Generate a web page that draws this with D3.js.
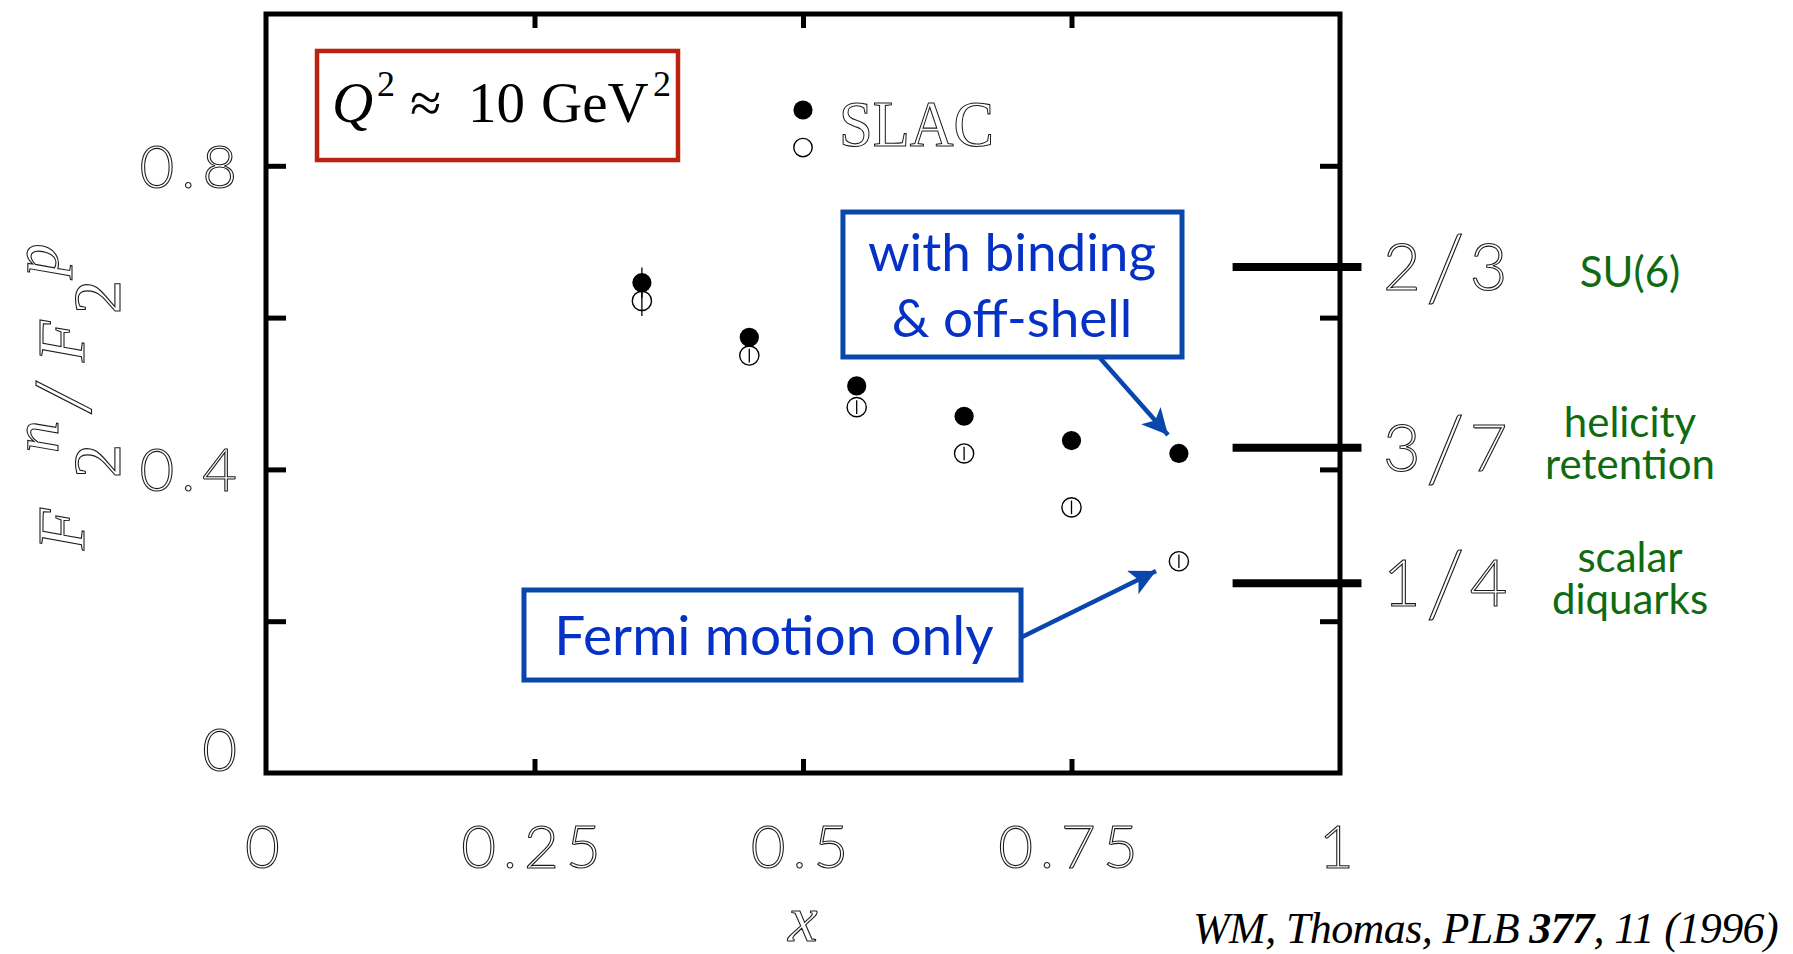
<!DOCTYPE html>
<html><head><meta charset="utf-8">
<script src="https://cdn.jsdelivr.net/npm/d3@7"></script>
<style>
html,body{margin:0;padding:0;background:#fff;}
svg{display:block;}
</style></head><body>
<svg id="chart" width="1793" height="954"></svg>
<script>
// ---- data ----
const xTickValues = [0.25, 0.5, 0.75];
const xLabelValues = [0, 0.25, 0.5, 0.75, 1];
const xTickLabels = ["0", "0.25", "0.5", "0.75", "1"];
const yTickValues = [0.2, 0.4, 0.6, 0.8];
const yLabelValues = [0, 0.4, 0.8];
const yTickLabels = ["0", "0.4", "0.8"];

const xValues = [0.35, 0.45, 0.55, 0.65, 0.75, 0.85];
const bindingValues = [0.646, 0.574, 0.510, 0.470, 0.438, 0.421];
const bindingErrors = [0.020, 0.008, 0.008, 0.008, 0.008, 0.008];
const fermiValues = [0.622, 0.550, 0.482, 0.421, 0.350, 0.279];
const fermiErrors = [0.020, 0.009, 0.009, 0.009, 0.009, 0.009];

const limitValues = [2/3, 3/7, 1/4];
const limitNumerators = ["2", "3", "1"];
const limitDenominators = ["3", "7", "4"];
const limitNames = [["SU(6)"], ["helicity", "retention"], ["scalar", "diquarks"]];

// ---- layout ----
const svg = d3.select("#chart");
const x = d3.scaleLinear().domain([0, 1]).range([266, 1340]);
const y = d3.scaleLinear().domain([0, 1]).range([773, 14]);

const outline = sel => sel.attr("fill", "#fff").attr("stroke", "#1a1a1a").attr("stroke-width", 1.1);
const tickFont = "Lato, 'DejaVu Sans', sans-serif";
const serif = "'Liberation Serif', 'DejaVu Serif', serif";
const blueStroke = "#0a47ad", blueText = "#0631c6", green = "#0f6b12", red = "#bb2210";

// frame
svg.append("rect")
  .attr("x", x(0)).attr("y", y(1))
  .attr("width", x(1) - x(0)).attr("height", y(0) - y(1))
  .attr("fill", "none").attr("stroke", "#000").attr("stroke-width", 5);

// ticks (inward)
function styleAxis(g) {
  g.select(".domain").remove();
  g.selectAll(".tick line").attr("stroke", "#000").attr("stroke-width", 5);
  g.selectAll(".tick text").remove();
}
svg.append("g").attr("transform", `translate(0,${y(0)})`)
  .call(d3.axisBottom(x).tickValues(xTickValues).tickSize(-14).tickFormat("")).call(styleAxis);
svg.append("g").attr("transform", `translate(0,${y(1)})`)
  .call(d3.axisTop(x).tickValues(xTickValues).tickSize(-14).tickFormat("")).call(styleAxis);
svg.append("g").attr("transform", `translate(${x(0)},0)`)
  .call(d3.axisLeft(y).tickValues(yTickValues).tickSize(-20).tickFormat("")).call(styleAxis);
svg.append("g").attr("transform", `translate(${x(1)},0)`)
  .call(d3.axisRight(y).tickValues(yTickValues).tickSize(-20).tickFormat("")).call(styleAxis);

// tick labels
svg.append("g").selectAll("text").data(xLabelValues).join("text")
  .attr("x", d => x(d)).attr("y", 868)
  .attr("text-anchor", "middle")
  .attr("font-family", tickFont).attr("font-weight", 300).attr("font-size", 60)
  .attr("letter-spacing", 7)
  .text((d, i) => xTickLabels[i]).call(outline);

svg.append("g").selectAll("text").data(yLabelValues).join("text")
  .attr("x", 244).attr("y", d => d === 0 ? y(d) - 2 : y(d) + 22)
  .attr("text-anchor", "end")
  .attr("font-family", tickFont).attr("font-weight", 300).attr("font-size", 60)
  .attr("letter-spacing", 7)
  .text((d, i) => yTickLabels[i]).call(outline);

// axis titles
svg.append("text").attr("x", x(0.5)).attr("y", 941).attr("text-anchor", "middle")
  .attr("font-family", serif).attr("font-style", "italic").attr("font-size", 66)
  .text("x").call(outline);

const yl = svg.append("g").attr("transform", "translate(84,550) rotate(-90)")
  .attr("font-family", serif).attr("font-style", "italic");
const yGlyphs = [
  {t: "F", tx: 0, ty: 0, fs: 68}, {t: "2", tx: 72, ty: 36, up: true, fs: 68}, {t: "n", tx: 97, ty: -26, fs: 65},
  {t: "/", tx: 140, ty: 6, fs: 82}, {t: "F", tx: 188, ty: 0, fs: 68}, {t: "2", tx: 236, ty: 36, up: true, fs: 68},
  {t: "p", tx: 274, ty: -26, fs: 65}
];
yl.selectAll("text").data(yGlyphs).join("text")
  .attr("x", d => d.tx).attr("y", d => d.ty)
  .attr("font-style", d => d.up ? "normal" : "italic")
  .attr("font-size", d => d.fs)
  .text(d => d.t).call(outline);

// Q^2 box
svg.append("rect").attr("x", x(0.0475)).attr("y", y(0.9513))
  .attr("width", x(0.3836) - x(0.0475)).attr("height", y(0.8076) - y(0.9513))
  .attr("fill", "none").attr("stroke", red).attr("stroke-width", 4.5);
const q = svg.append("text").attr("y", 122)
  .attr("font-family", serif).attr("font-size", 57).attr("fill", "#000");
q.append("tspan").attr("x", 332).attr("font-style", "italic").text("Q");
q.append("tspan").attr("x", 377).attr("font-size", 36).attr("dy", -26).text("2");
q.append("tspan").attr("x", 410).attr("dy", 26).text("\u2248");
q.append("tspan").attr("x", 468).text("10");
q.append("tspan").attr("x", 541).text("GeV");
q.append("tspan").attr("x", 653).attr("font-size", 36).attr("dy", -26).text("2");

// limit lines and labels
const lim = svg.append("g");
lim.selectAll("line").data(limitValues).join("line")
  .attr("x1", x(0.9)).attr("x2", x(1.02))
  .attr("y1", d => y(d)).attr("y2", d => y(d))
  .attr("stroke", "#000").attr("stroke-width", 8);
limitValues.forEach((v, i) => {
  const t = lim.append("text").attr("x", 1383).attr("y", y(v) + 23)
    .attr("font-family", tickFont).attr("font-weight", 300).attr("font-size", 65)
    .call(outline);
  t.append("tspan").text(limitNumerators[i]);
  t.append("tspan").attr("dx", 5).attr("font-size", 90).attr("dy", 10).text("/");
  t.append("tspan").attr("dx", 5).attr("dy", -10).text(limitDenominators[i]);
  const names = limitNames[i];
  const nt = lim.append("text")
    .attr("text-anchor", "middle")
    .attr("font-family", tickFont).attr("font-size", 42).attr("fill", green);
  names.forEach((n, j) => {
    nt.append("tspan").attr("x", 1630)
      .attr("y", names.length === 1 ? y(v) + 20 : y(v) - 11 + 42 * j)
      .text(n);
  });
});

// error bars
const eb = svg.append("g").attr("stroke", "#000").attr("stroke-width", 1.3);
eb.selectAll(".ebf").data(xValues).join("line").attr("class", "ebf")
  .attr("x1", d => x(d)).attr("x2", d => x(d))
  .attr("y1", (d, i) => y(bindingValues[i] + bindingErrors[i]))
  .attr("y2", (d, i) => y(bindingValues[i] - bindingErrors[i]));
eb.selectAll(".ebo").data(xValues).join("line").attr("class", "ebo")
  .attr("x1", d => x(d)).attr("x2", d => x(d))
  .attr("y1", (d, i) => y(fermiValues[i] + fermiErrors[i]))
  .attr("y2", (d, i) => y(fermiValues[i] - fermiErrors[i]));

// points
svg.append("g").selectAll("circle").data(xValues).join("circle")
  .attr("cx", d => x(d)).attr("cy", (d, i) => y(fermiValues[i])).attr("r", 9.6)
  .attr("fill", "none").attr("stroke", "#000").attr("stroke-width", 1.4);
svg.append("g").selectAll("circle").data(xValues).join("circle")
  .attr("cx", d => x(d)).attr("cy", (d, i) => y(bindingValues[i])).attr("r", 9.6)
  .attr("fill", "#000");

// legend
svg.append("circle").attr("cx", x(0.5)).attr("cy", y(0.8735)).attr("r", 9.6).attr("fill", "#000");
svg.append("circle").attr("cx", x(0.5)).attr("cy", y(0.824)).attr("r", 9.2)
  .attr("fill", "none").attr("stroke", "#000").attr("stroke-width", 1.4);
svg.append("text").attr("x", x(0.5) + 36).attr("y", 146)
  .attr("font-family", serif).attr("font-size", 66)
  .attr("textLength", 155).attr("lengthAdjust", "spacingAndGlyphs")
  .text("SLAC").call(outline);

// annotation boxes
const defs = svg.append("defs");
defs.append("marker").attr("id", "arr").attr("viewBox", "0 0 10 10")
  .attr("refX", 10).attr("refY", 5).attr("markerWidth", 32).attr("markerHeight", 26)
  .attr("markerUnits", "userSpaceOnUse").attr("orient", "auto")
  .append("path").attr("d", "M0,0 L10,5 L0,10 L2.5,5 Z").attr("fill", blueStroke);

svg.append("rect").attr("x", x(0.5372)).attr("y", y(0.7391))
  .attr("width", x(0.8529) - x(0.5372)).attr("height", y(0.5481) - y(0.7391))
  .attr("fill", "#fff").attr("stroke", blueStroke).attr("stroke-width", 5);
const bt = svg.append("text").attr("text-anchor", "middle")
  .attr("font-family", tickFont).attr("font-size", 53).attr("fill", blueText);
[["with binding", 271], ["& off-shell", 337]].forEach(([t, yy]) => {
  bt.append("tspan").attr("x", 1012).attr("y", yy).text(t);
});
svg.append("line").attr("x1", x(0.7765)).attr("y1", y(0.5468))
  .attr("x2", x(0.8399)).attr("y2", y(0.4453))
  .attr("stroke", blueStroke).attr("stroke-width", 4.5).attr("marker-end", "url(#arr)");

svg.append("rect").attr("x", x(0.2402)).attr("y", y(0.2411))
  .attr("width", x(0.703) - x(0.2402)).attr("height", y(0.1225) - y(0.2411))
  .attr("fill", "#fff").attr("stroke", blueStroke).attr("stroke-width", 5);
svg.append("text").attr("x", 774).attr("y", 655).attr("text-anchor", "middle")
  .attr("font-family", tickFont).attr("font-size", 55).attr("fill", blueText).text("Fermi motion only");
svg.append("line").attr("x1", x(0.7039)).attr("y1", y(0.1792))
  .attr("x2", x(0.8287)).attr("y2", y(0.2661))
  .attr("stroke", blueStroke).attr("stroke-width", 4.5).attr("marker-end", "url(#arr)");

// citation
const cit = svg.append("text").attr("x", 1778).attr("y", 943).attr("text-anchor", "end")
  .attr("font-family", serif).attr("font-style", "italic").attr("font-size", 44).attr("fill", "#000")
  .attr("letter-spacing", -0.6);
cit.append("tspan").text("WM, Thomas, PLB ");
cit.append("tspan").attr("font-weight", "bold").text("377");
cit.append("tspan").text(", 11 (1996)");
</script>
</body></html>
